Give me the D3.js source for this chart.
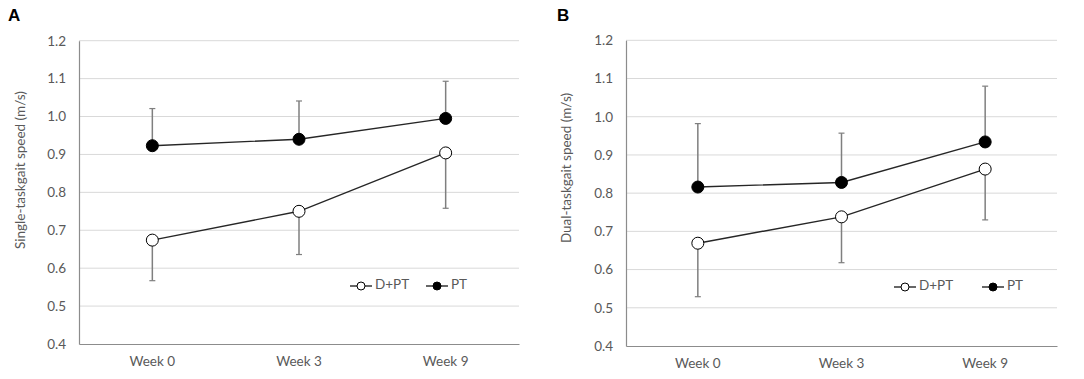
<!DOCTYPE html>
<html><head><meta charset="utf-8">
<script src="https://cdn.jsdelivr.net/npm/d3@7/dist/d3.min.js"></script>
<style>
html,body{margin:0;padding:0;background:#fff;}
svg text{font-family:Lato,"Open Sans",sans-serif;}
</style></head>
<body><svg id="c" width="1084" height="379"></svg>
<script>
const weeks = ["Week 0", "Week 3", "Week 9"];
const yTicks = [0.4, 0.5, 0.6, 0.7, 0.8, 0.9, 1.0, 1.1, 1.2];
const seriesNames = ["D+PT", "PT"];

// Panel A: single-task gait speed
const aDPT = [0.674, 0.750, 0.904];
const aDPTLow = [0.567, 0.636, 0.758];
const aPT = [0.923, 0.940, 0.995];
const aPTHigh = [1.021, 1.041, 1.093];

// Panel B: dual-task gait speed
const bDPT = [0.669, 0.738, 0.863];
const bDPTLow = [0.529, 0.618, 0.730];
const bPT = [0.816, 0.828, 0.934];
const bPTHigh = [0.982, 0.957, 1.080];

const svg = d3.select("#c");
const FS = "13.5px";

function panel(cfg) {
  const g = svg.append("g");
  const x = d3.scaleBand().domain(weeks).range([cfg.left, cfg.right]);
  const y = d3.scaleLinear().domain([0.4, 1.2]).range([cfg.bottom, cfg.top]);
  const cx = d => x(d) + x.bandwidth() / 2;

  // gridlines
  g.selectAll(".grid").data(yTicks.slice(1)).join("line")
    .attr("x1", cfg.left).attr("x2", cfg.right)
    .attr("y1", d => y(d)).attr("y2", d => y(d))
    .attr("stroke", "#d9d9d9").attr("stroke-width", 1);

  // axes
  const yAxis = d3.axisLeft(y).tickValues(yTicks).tickFormat(d3.format(".1f")).tickSize(0).tickPadding(13);
  const ya = g.append("g").attr("transform", `translate(${cfg.left},0)`).call(yAxis);
  ya.select(".domain").attr("stroke", "#8c8c8c").attr("stroke-width", 1.2);
  ya.selectAll("text").attr("fill", "#595959").style("font-size", FS);

  const xAxis = d3.axisBottom(x).tickSize(0).tickPadding(12);
  const xa = g.append("g").attr("transform", `translate(0,${cfg.bottom})`).call(xAxis);
  xa.select(".domain").attr("stroke", "#8c8c8c").attr("stroke-width", 1.2);
  xa.selectAll("text").attr("fill", "#595959").style("font-size", FS);

  // y label
  g.append("text")
    .attr("transform", `translate(${cfg.ylabX},${cfg.ylabY}) rotate(-90)`)
    .attr("text-anchor", "middle").attr("dominant-baseline", "middle")
    .attr("fill", "#595959").style("font-size", FS)
    .text(cfg.ylabel);

  // panel letter
  g.append("text").attr("x", cfg.letterX).attr("y", 21)
    .attr("font-weight", "bold").style("font-family", "Liberation Sans, Arial, sans-serif")
    .style("font-size", "17px").attr("fill", "#000").text(cfg.letter);

  // error bars
  function errBars(vals, ends) {
    const eg = g.append("g");
    eg.selectAll("line.v").data(weeks).join("line")
      .attr("x1", cx).attr("x2", cx)
      .attr("y1", (d, i) => y(vals[i])).attr("y2", (d, i) => y(ends[i]))
      .attr("stroke", "#7f7f7f").attr("stroke-width", 1.5);
    eg.selectAll("line.c").data(weeks).join("line")
      .attr("x1", d => cx(d) - 3).attr("x2", d => cx(d) + 3)
      .attr("y1", (d, i) => y(ends[i])).attr("y2", (d, i) => y(ends[i]))
      .attr("stroke", "#7f7f7f").attr("stroke-width", 1.2);
  }
  errBars(cfg.pt, cfg.ptHigh);
  errBars(cfg.dpt, cfg.dptLow);

  const line = d3.line().x((d, i) => cx(weeks[i])).y(d => y(d));
  function series(vals, fill) {
    g.append("path").datum(vals).attr("d", line)
      .attr("fill", "none").attr("stroke", "#262626").attr("stroke-width", 1.4);
    g.selectAll(null).data(vals).join("circle")
      .attr("cx", (d, i) => cx(weeks[i])).attr("cy", d => y(d)).attr("r", 6)
      .attr("fill", fill).attr("stroke", "#000").attr("stroke-width", 1);
  }
  series(cfg.pt, "#000");
  series(cfg.dpt, "#fff");

  // legend
  const lg = g.append("g");
  const fills = ["#fff", "#000"];
  seriesNames.forEach((name, i) => {
    const lx = cfg.legX[i];
    lg.append("line").attr("x1", lx).attr("x2", lx + 22).attr("y1", cfg.legY).attr("y2", cfg.legY)
      .attr("stroke", "#262626").attr("stroke-width", 1.4);
    lg.append("circle").attr("cx", lx + 11).attr("cy", cfg.legY).attr("r", 4)
      .attr("fill", fills[i]).attr("stroke", "#000").attr("stroke-width", 1);
    lg.append("text").attr("x", lx + 25).attr("y", cfg.legY).attr("dominant-baseline", "middle")
      .attr("fill", "#595959").style("font-size", FS).text(name);
  });
}

panel({left: 79, right: 519, top: 40.7, bottom: 344, ylabX: 22, ylabY: 170,
  ylabel: "Single-taskgait speed (m/s)", letter: "A", letterX: 8,
  dpt: aDPT, dptLow: aDPTLow, pt: aPT, ptHigh: aPTHigh,
  legX: [350, 426], legY: 286});
panel({left: 626, right: 1057, top: 40.3, bottom: 346, ylabX: 568, ylabY: 168,
  ylabel: "Dual-taskgait speed (m/s)", letter: "B", letterX: 557,
  dpt: bDPT, dptLow: bDPTLow, pt: bPT, ptHigh: bPTHigh,
  legX: [894, 982], legY: 287});
</script></body></html>
